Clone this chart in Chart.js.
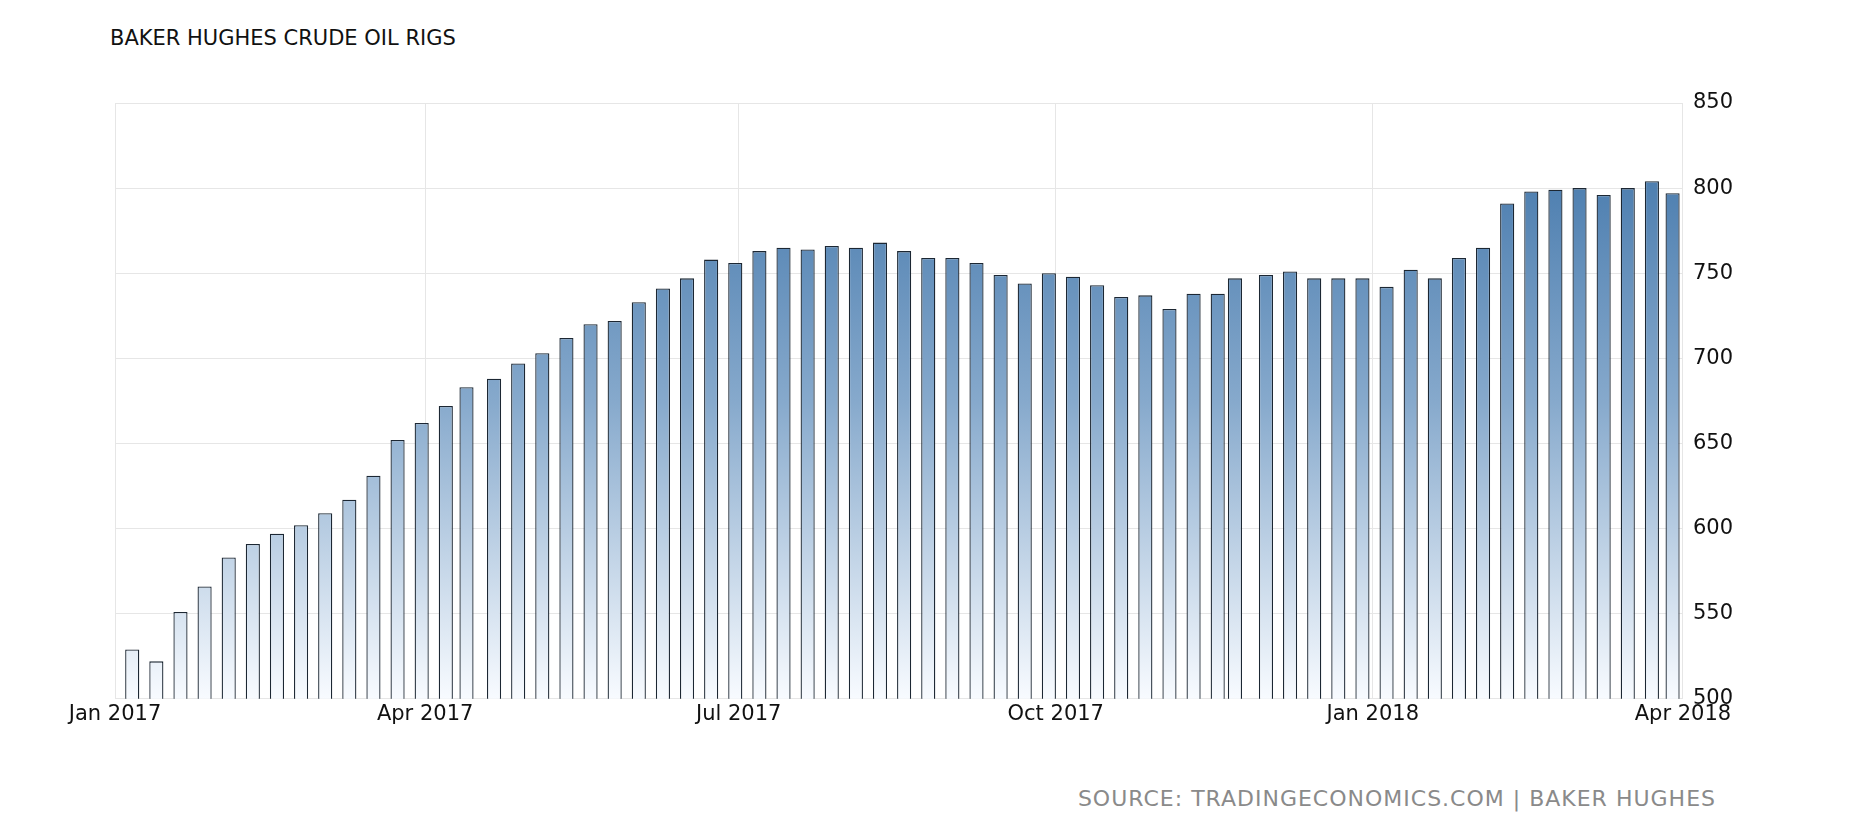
<!DOCTYPE html><html><head><meta charset="utf-8">
<script src="https://cdn.jsdelivr.net/npm/chart.js@4"></script>
<style>body{margin:0;background:#fff;width:1866px;height:824px;overflow:hidden;font-family:"DejaVu Sans"}
#t{position:absolute;left:110px;top:26px;font-size:21px;color:#111}
#s{position:absolute;right:150px;top:786px;font-size:22px;color:#8a8a8a;letter-spacing:1px}
#w{position:absolute;left:0;top:73px;width:1743px;height:657px}</style></head><body>
<div id="t">BAKER HUGHES CRUDE OIL RIGS</div>
<div id="w"><canvas id="c"></canvas></div>
<div id="s">SOURCE: TRADINGECONOMICS.COM | BAKER HUGHES</div>
<script>
const days=[5,12,19,26,33,40,47,54,61,68,75,82,89,96,102,110,117,124,131,138,145,152,159,166,173,180,187,194,201,208,215,222,229,236,243,250,257,264,271,278,285,292,299,306,313,320,325,334,341,348,355,362,369,376,383,390,397,404,411,418,425,432,439,446,452];
const rigs=[529,522,551,566,583,591,597,602,609,617,631,652,662,672,683,688,697,703,712,720,722,733,741,747,758,756,763,765,764,766,765,768,763,759,759,756,749,744,750,748,743,736,737,729,738,738,747,749,751,747,747,747,742,752,747,759,765,791,798,799,800,796,800,804,797];
const tickPos=[0,90,181,273,365,455];
const tickLbl=["Jan 2017","Apr 2017","Jul 2017","Oct 2017","Jan 2018","Apr 2018"];
const yTicks=[500,550,600,650,700,750,800,850];
const ctx=document.getElementById('c');
new Chart(ctx,{type:'bar',data:{datasets:[{data:days.map((d,i)=>({x:d,y:rigs[i]})),
backgroundColor:(c)=>{const a=c.chart.chartArea;if(!a)return '#3f74a8';const g=c.chart.ctx.createLinearGradient(0,a.top,0,a.bottom);g.addColorStop(0,'#3a70a6');g.addColorStop(0.5,'#86a9cc');g.addColorStop(1,'#f8fbff');return g;},
borderColor:'#1c2733',borderWidth:1.3,borderSkipped:false,barPercentage:0.82,categoryPercentage:1}]},
options:{responsive:true,maintainAspectRatio:false,animation:false,layout:{padding:{left:115,right:0,top:30,bottom:0}},
plugins:{legend:{display:false},tooltip:{enabled:false}},
scales:{x:{type:'linear',offset:false,min:0,max:455,afterBuildTicks:a=>{a.ticks=tickPos.map(v=>({value:v}));},
ticks:{callback:(v)=>tickLbl[tickPos.indexOf(v)],font:{family:'DejaVu Sans',size:21},color:'#111',maxRotation:0,autoSkip:false},
grid:{color:'#e6e6e6',drawTicks:false,offset:false},border:{display:false}},
y:{position:'right',min:500,max:850,afterBuildTicks:a=>{a.ticks=yTicks.map(v=>({value:v}));},
ticks:{font:{family:'DejaVu Sans',size:21},color:'#111',padding:10},grid:{color:'#e6e6e6',drawTicks:false},border:{display:false}}}}});
</script></body></html>
